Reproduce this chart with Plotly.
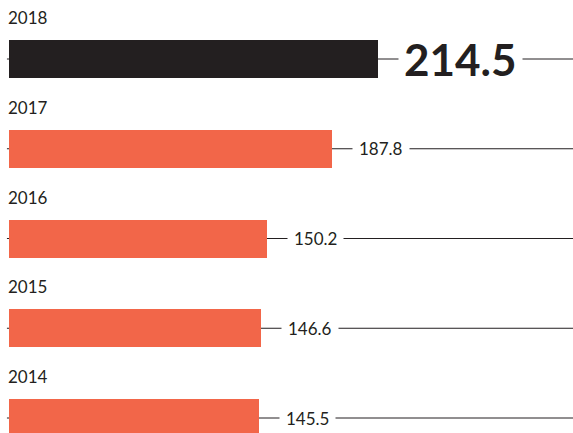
import plotly.graph_objects as go

years = ["2018", "2017", "2016", "2015", "2014"]
values = [214.5, 187.8, 150.2, 146.6, 145.5]
bar_colors = ["#231f20", "#f26649", "#f26649", "#f26649", "#f26649"]

W, H = 573, 433
px_per_unit = 1.72
left_px = 9
xr = [-left_px / px_per_unit, (W - left_px) / px_per_unit]
spacing = 89.75
first_c = 59
yr = [(H - first_c) / spacing, -first_c / spacing]

pos = list(range(len(years)))

fig = go.Figure()
fig.add_trace(go.Bar(
    x=values, y=pos, orientation="h",
    marker=dict(color=bar_colors, line=dict(width=0)),
    width=38 / spacing, hoverinfo="skip",
))

font_family = "Lato, 'Open Sans', sans-serif"
for i, (yv, v) in enumerate(zip(years, values)):
    fig.add_shape(type="line", xref="x", yref="y", x0=-1.2, x1=xr[1], y0=i, y1=i,
                  line=dict(color="#231f20", width=1), layer="below")
    fig.add_annotation(x=0, y=i - 0.46, xref="x", yref="y", text=yv, showarrow=False,
                       xanchor="left", yanchor="middle", xshift=-3,
                       font=dict(family=font_family, size=17, color="#231f20"))
    big = i == 0
    fig.add_annotation(x=v, y=i, xref="x", yref="y", text=("<b>%.1f</b>" % v) if big else "%.1f" % v,
                       showarrow=False, xanchor="left", yanchor="middle",
                       xshift=20,
                       bgcolor="white", borderpad=(5 if big else 6),
                       font=dict(family=font_family, size=(44 if big else 17), color="#231f20"))

fig.update_layout(
    width=W, height=H, margin=dict(l=0, r=0, t=0, b=0),
    plot_bgcolor="white", paper_bgcolor="white", showlegend=False,
    xaxis=dict(range=xr, visible=False, fixedrange=True),
    yaxis=dict(range=yr, visible=False, fixedrange=True),
    bargap=0,
)
fig.write_html("out.html", config={"displayModeBar": False},
               post_script="document.body.style.margin='0';")
